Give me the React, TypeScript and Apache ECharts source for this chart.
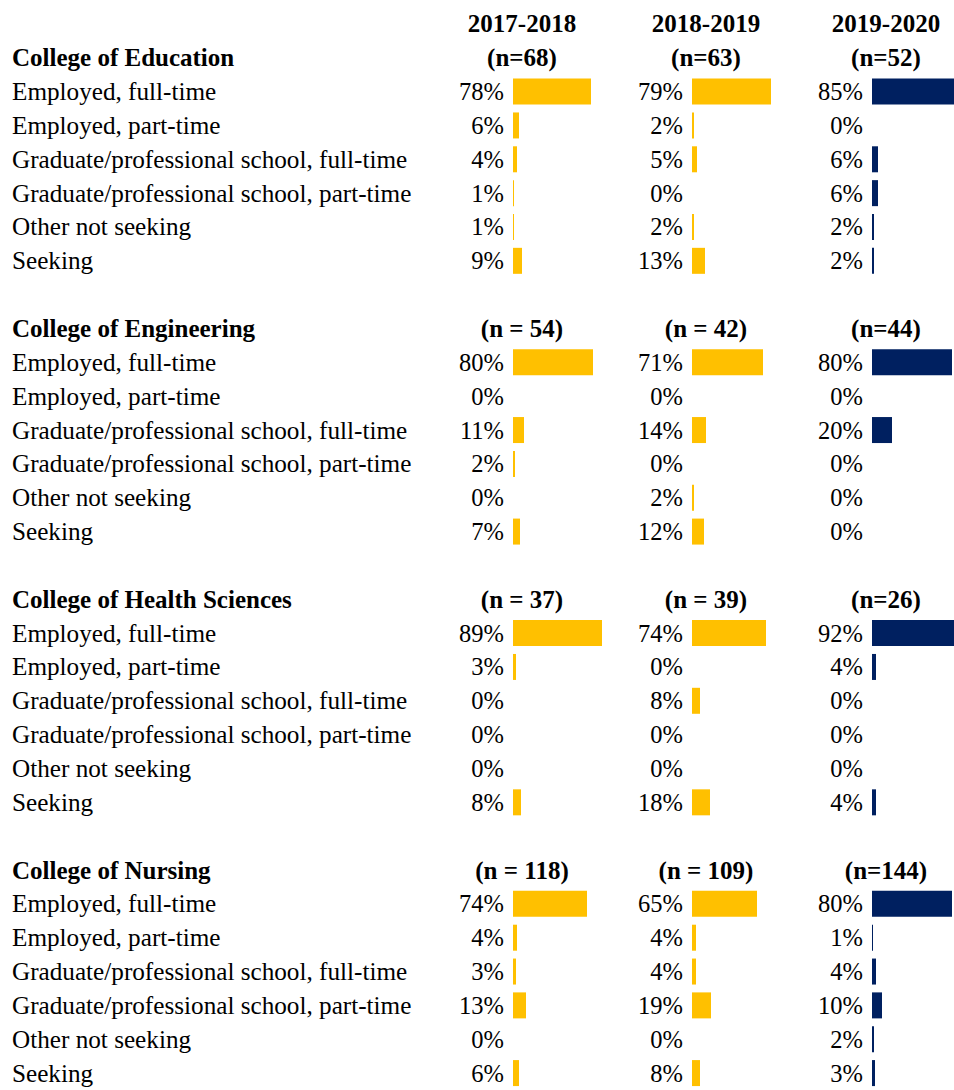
import React, { useEffect, useRef } from "react";
import * as echarts from "echarts";

// ---------- data ----------
const YEARS = ["2017-2018", "2018-2019", "2019-2020"];
const COLLEGES = [
  "College of Education",
  "College of Engineering",
  "College of Health Sciences",
  "College of Nursing",
];
const OUTCOMES = [
  "Employed, full-time",
  "Employed, part-time",
  "Graduate/professional school, full-time",
  "Graduate/professional school, part-time",
  "Other not seeking",
  "Seeking",
];

const N_2017 = ["(n=68)", "(n = 54)", "(n = 37)", "(n = 118)"];
const N_2018 = ["(n=63)", "(n = 42)", "(n = 39)", "(n = 109)"];
const N_2019 = ["(n=52)", "(n=44)", "(n=26)", "(n=144)"];

const EDUCATION_2017 = [78, 6, 4, 1, 1, 9];
const EDUCATION_2018 = [79, 2, 5, 0, 2, 13];
const EDUCATION_2019 = [85, 0, 6, 6, 2, 2];
const ENGINEERING_2017 = [80, 0, 11, 2, 0, 7];
const ENGINEERING_2018 = [71, 0, 14, 0, 2, 12];
const ENGINEERING_2019 = [80, 0, 20, 0, 0, 0];
const HEALTH_2017 = [89, 3, 0, 0, 0, 8];
const HEALTH_2018 = [74, 0, 8, 0, 0, 18];
const HEALTH_2019 = [92, 4, 0, 0, 0, 4];
const NURSING_2017 = [74, 4, 3, 13, 0, 6];
const NURSING_2018 = [65, 4, 4, 19, 0, 8];
const NURSING_2019 = [80, 1, 4, 10, 2, 3];

// ---------- assembled tables ----------
const VALUES = [
  [EDUCATION_2017, ENGINEERING_2017, HEALTH_2017, NURSING_2017],
  [EDUCATION_2018, ENGINEERING_2018, HEALTH_2018, NURSING_2018],
  [EDUCATION_2019, ENGINEERING_2019, HEALTH_2019, NURSING_2019],
];
const NS = [N_2017, N_2018, N_2019];

// ---------- layout / style ----------
const W = 954;
const H = 1090;
const FONT = "'Times New Roman', 'Liberation Serif', serif";
const FS_NUM = 24.5;
const FS_TXT = 25.2;
const FS_BOLD = 25;
const ROW_H = 34;
const TOP = 7;
const GRID_LEFT = [513, 692, 872];
const HEAD_OFFSET = [9, 14, 14];
const BAR_COLORS = ["#FFC000", "#FFC000", "#002060"];

type Row = { kind: "header" | "title" | "item" | "blank"; c: number; i: number };
const ROWS: Row[] = [{ kind: "header", c: -1, i: -1 }];
COLLEGES.forEach((_, c) => {
  ROWS.push({ kind: "title", c, i: -1 });
  OUTCOMES.forEach((__, i) => ROWS.push({ kind: "item", c, i }));
  if (c < COLLEGES.length - 1) ROWS.push({ kind: "blank", c, i: -1 });
});

function rowText(r: Row): string {
  if (r.kind === "title") return "{t|" + COLLEGES[r.c] + "}";
  if (r.kind === "item") return "{r|" + OUTCOMES[r.i] + "}";
  return "";
}

function buildOption() {
  const cats = ROWS.map((_, k) => String(k));
  // 1 px per percentage point; the last column runs off the right edge
  const widths = GRID_LEFT.map((left) => Math.min(100, W - left));
  const grids = GRID_LEFT.map((left, j) => ({
    left,
    top: TOP,
    width: widths[j],
    height: ROWS.length * ROW_H,
    containLabel: false,
  }));
  const xAxes = GRID_LEFT.map((_, j) => ({
    type: "value",
    gridIndex: j,
    min: 0,
    max: widths[j],
    show: false,
  }));
  const yAxes = GRID_LEFT.map((_, j) => ({
    type: "category",
    gridIndex: j,
    data: cats,
    inverse: true,
    show: j === 0,
    axisLine: { show: false },
    axisTick: { show: false },
    splitLine: { show: false },
    axisLabel: {
      show: j === 0,
      interval: 0,
      align: "left",
      margin: GRID_LEFT[0] - 12,
      formatter: (v: string) => rowText(ROWS[Number(v)]),
      rich: {
        t: { fontFamily: FONT, fontSize: FS_BOLD, fontWeight: "bold", color: "#000" },
        r: { fontFamily: FONT, fontSize: FS_TXT, color: "#000" },
      },
    },
  }));

  const series: any[] = [];
  YEARS.forEach((year, j) => {
    series.push({
      type: "bar",
      xAxisIndex: j,
      yAxisIndex: j,
      barWidth: 26,
      clip: true,
      itemStyle: { color: BAR_COLORS[j] },
      data: ROWS.map((r) => (r.kind === "item" ? VALUES[j][r.c][r.i] : "-")),
      label: {
        show: true,
        position: "left",
        distance: 9,
        formatter: (p: any) => p.value + "%",
        fontFamily: FONT,
        fontSize: FS_NUM,
        color: "#000",
      },
      silent: true,
    });
    const heads: any[] = [];
    ROWS.forEach((r, k) => {
      if (r.kind === "header") heads.push({ name: year, value: [HEAD_OFFSET[j], k] });
      if (r.kind === "title") heads.push({ name: NS[j][r.c], value: [HEAD_OFFSET[j], k] });
    });
    series.push({
      type: "scatter",
      xAxisIndex: j,
      yAxisIndex: j,
      symbolSize: 1,
      itemStyle: { color: "rgba(255,255,255,0)", opacity: 1 },
      data: heads,
      label: {
        show: true,
        position: "inside",
        formatter: "{b}",
        fontFamily: FONT,
        fontSize: FS_BOLD,
        fontWeight: "bold",
        color: "#000",
        opacity: 1,
      },
      silent: true,
    });
  });

  return {
    animation: false,
    backgroundColor: "#ffffff",
    grid: grids,
    xAxis: xAxes,
    yAxis: yAxes,
    series,
  };
}

export default function App() {
  const ref = useRef<HTMLDivElement>(null);
  useEffect(() => {
    if (!ref.current) return;
    const chart = echarts.init(ref.current, undefined, { renderer: "svg" });
    chart.setOption(buildOption() as any);
    return () => chart.dispose();
  }, []);
  return (
    <div
      ref={ref}
      style={{ position: "absolute", left: 0, top: 0, width: W, height: H, background: "#fff" }}
    />
  );
}
